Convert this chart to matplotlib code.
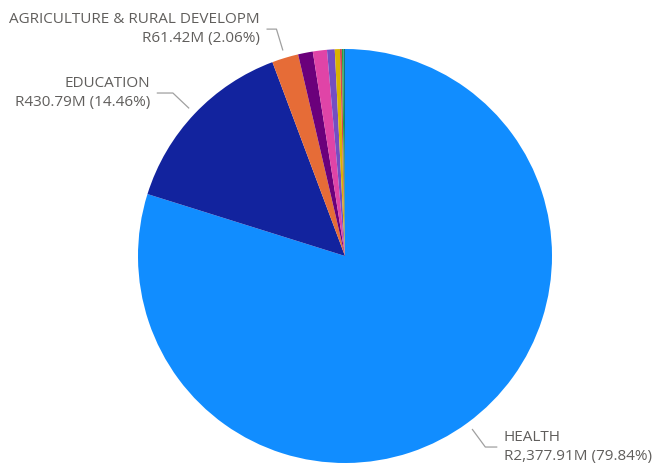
import numpy as np
import matplotlib
matplotlib.use("Agg")
import matplotlib.pyplot as plt

# departments, spend in R millions (small slices)
depts = ["HEALTH", "EDUCATION", "AGRICULTURE & RURAL DEVELOPM",
         "dept 4", "dept 5", "dept 6", "dept 7", "dept 8", "dept 9", "dept 10"]
values = [2377.91, 430.79, 61.42, 34.25, 32.76, 17.87, 11.9, 4.47, 3.57, 3.57]
shown = [0, 1, 2]   # slices that carry a data label
colors = ["#118DFF", "#12239E", "#E66C37", "#6B007B", "#E044A7",
          "#744EC2", "#D9B300", "#D64550", "#1AAB40", "#197278"]

plt.rcParams["font.family"] = ["Open Sans", "DejaVu Sans"]
fig = plt.figure(figsize=(6.56, 4.74), dpi=100)
W, H = 656, 474
cx, cy, R = 345, 256, 207
ax = fig.add_axes([(cx - R) / W, (H - cy - R) / H, 2 * R / W, 2 * R / H])

wedges, _ = ax.pie(values, colors=colors, startangle=90, counterclock=False,
                   radius=1.0, center=(0, 0), wedgeprops=dict(linewidth=0))
ax.set_xlim(-1, 1)
ax.set_ylim(-1, 1)
ax.set_aspect("equal")
ax.axis("off")

total = sum(values)
hlen = {0: 0.055, 1: 0.075, 2: 0.045}
for i in shown:
    w = wedges[i]
    mid = np.deg2rad((w.theta1 + w.theta2) / 2)
    p0 = 1.04 * np.array([np.cos(mid), np.sin(mid)])
    p1 = 1.145 * np.array([np.cos(mid), np.sin(mid)])
    side = 1 if p1[0] > 0 else -1
    p2 = p1 + np.array([side * hlen[i], 0])
    ax.plot([p0[0], p1[0], p2[0]], [p0[1], p1[1], p2[1]], color="#a0a0a0",
            lw=0.9, clip_on=False)
    pct = values[i] / total * 100
    label = f"{depts[i]}\nR{values[i]:,.2f}M ({pct:.2f}%)"
    ax.text(p2[0] + side * 0.035, p2[1], label, ha="left" if side > 0 else "right",
            va="center", fontsize=11, color="#605e5c", linespacing=1.4,
            multialignment="left" if side > 0 else "right")

fig.savefig("out.png", dpi=100)
